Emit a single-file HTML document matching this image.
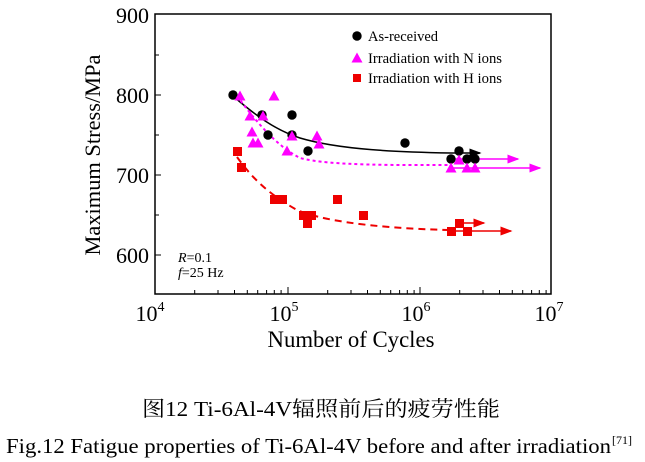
<!DOCTYPE html>
<html><head><meta charset="utf-8"><style>body{margin:0;background:#fff}svg{display:block}</style></head>
<body>
<svg width="645" height="462" xmlns="http://www.w3.org/2000/svg" font-family="Liberation Serif, 'Noto Serif CJK SC', serif">
<defs>
<marker id="ak" markerWidth="8" markerHeight="6" refX="7" refY="3" orient="auto"><path d="M0,0L8,3L0,6z" fill="#000"/></marker>
<marker id="am" markerWidth="8" markerHeight="6" refX="7" refY="3" orient="auto"><path d="M0,0L8,3L0,6z" fill="#f0f"/></marker>
<marker id="ar" markerWidth="8" markerHeight="6" refX="7" refY="3" orient="auto"><path d="M0,0L8,3L0,6z" fill="#e00"/></marker>
</defs>
<rect x="155" y="14" width="396" height="280" fill="none" stroke="#000" stroke-width="1.5"/>
<g stroke="#000" stroke-width="1">
<path d="M155,95h6M155,175h6M155,255h6M155,55h4M155,135h4M155,215h4"/>
<path d="M288,294v-7M420,294v-7"/>
<path d="M194.7,294v-4M218,294v-4M234.5,294v-4M247.3,294v-4M257.7,294v-4M266.6,294v-4M274.3,294v-4M281.1,294v-4
M327.7,294v-4M351,294v-4M367.5,294v-4M380.3,294v-4M390.7,294v-4M399.6,294v-4M407.3,294v-4M414.1,294v-4
M459.7,294v-4M483,294v-4M499.5,294v-4M512.3,294v-4M522.7,294v-4M531.6,294v-4M539.3,294v-4M546.1,294v-4"/>
</g>
<g font-size="22" text-anchor="end">
<text x="149" y="23">900</text><text x="149" y="103">800</text><text x="149" y="183">700</text><text x="149" y="263">600</text>
</g>
<g font-size="22" text-anchor="middle">
<text x="150" y="321">10<tspan font-size="14" dy="-10">4</tspan></text>
<text x="284" y="321">10<tspan font-size="14" dy="-10">5</tspan></text>
<text x="416" y="321">10<tspan font-size="14" dy="-10">6</tspan></text>
<text x="549" y="321">10<tspan font-size="14" dy="-10">7</tspan></text>
<text x="351" y="347" font-size="23" textLength="167" lengthAdjust="spacingAndGlyphs">Number of Cycles</text>
<text transform="translate(100,155) rotate(-90)" font-size="22" textLength="201" lengthAdjust="spacingAndGlyphs">Maximum Stress/MPa</text>
</g>
<text x="178" y="262" font-size="14" font-style="italic">R<tspan font-style="normal">=0.1</tspan></text>
<text x="178" y="277" font-size="14" font-style="italic">f<tspan font-style="normal">=25 Hz</tspan></text>
<path d="M233,96 C255,115 275,130 300,138 C340,150 400,152 451,153" fill="none" stroke="#000" stroke-width="1.5"/>
<path d="M451,153 H480" stroke="#000" stroke-width="1.5" marker-end="url(#ak)"/>
<path d="M237,96 C255,120 275,145 300,158 C330,166 400,165 451,165" fill="none" stroke="#f0f" stroke-width="2" stroke-dasharray="3,3"/>
<path d="M451,159 H518" stroke="#f0f" stroke-width="1.5" marker-end="url(#am)"/>
<path d="M451,168 H540" stroke="#f0f" stroke-width="1.5" marker-end="url(#am)"/>
<path d="M237,157 C250,175 265,192 297,210 C330,224 400,229 450,230" fill="none" stroke="#e00" stroke-width="2" stroke-dasharray="7,5"/>
<path d="M459,223 H484" stroke="#e00" stroke-width="1.5" marker-end="url(#ar)"/>
<path d="M451,231 H511" stroke="#e00" stroke-width="1.5" marker-end="url(#ar)"/>
<g fill="#000">
<circle cx="233" cy="95" r="4.7"/><circle cx="262" cy="115" r="4.7"/><circle cx="268" cy="135" r="4.7"/><circle cx="292" cy="115" r="4.7"/><circle cx="292" cy="135" r="4.7"/><circle cx="308" cy="151" r="4.7"/><circle cx="405" cy="143" r="4.7"/><circle cx="451" cy="159" r="4.7"/><circle cx="459" cy="151" r="4.7"/><circle cx="467" cy="159" r="4.7"/><circle cx="475" cy="159" r="4.7"/>
<circle cx="357" cy="36" r="4.7"/>
</g>
<g fill="#f0f">
<path id="t" d="M0,-5.5L5.5,4.5L-5.5,4.5z" transform="translate(240,96)"/>
<use href="#t" x="34" y="0"/><use href="#t" x="10" y="20"/><use href="#t" x="23" y="20"/><use href="#t" x="12" y="36"/><use href="#t" x="13" y="47"/><use href="#t" x="18" y="47"/><use href="#t" x="47" y="55"/><use href="#t" x="52" y="40"/><use href="#t" x="77" y="40"/><use href="#t" x="79" y="48"/><use href="#t" x="211" y="72"/><use href="#t" x="219" y="64"/><use href="#t" x="227" y="72"/><use href="#t" x="235" y="72"/>
<use href="#t" x="117" y="-38"/>
</g>
<g fill="#e00">
<rect x="233" y="147" width="9" height="9"/><rect x="237" y="163" width="9" height="9"/><rect x="270" y="195" width="9" height="9"/><rect x="278" y="195" width="9" height="9"/><rect x="299" y="211" width="9" height="9"/><rect x="307" y="211" width="9" height="9"/><rect x="303" y="219" width="9" height="9"/><rect x="333" y="195" width="9" height="9"/><rect x="359" y="211" width="9" height="9"/><rect x="447" y="227" width="9" height="9"/><rect x="455" y="219" width="9" height="9"/><rect x="463" y="227" width="9" height="9"/>
<rect x="353" y="74" width="8" height="8"/>
</g>
<g font-size="14.5">
<text x="368" y="41">As-received</text>
<text x="368" y="63" textLength="134" lengthAdjust="spacingAndGlyphs">Irradiation with N ions</text>
<text x="368" y="83" textLength="134" lengthAdjust="spacingAndGlyphs">Irradiation with H ions</text>
</g>
<text x="142" y="416" font-size="21" textLength="358" lengthAdjust="spacingAndGlyphs">图12  Ti-6Al-4V辐照前后的疲劳性能</text>
<text x="6" y="453" font-size="21" textLength="605" lengthAdjust="spacingAndGlyphs">Fig.12  Fatigue properties of Ti-6Al-4V before and after irradiation</text>
<text x="612" y="444" font-size="12">[71]</text>
</svg>
</body></html>
